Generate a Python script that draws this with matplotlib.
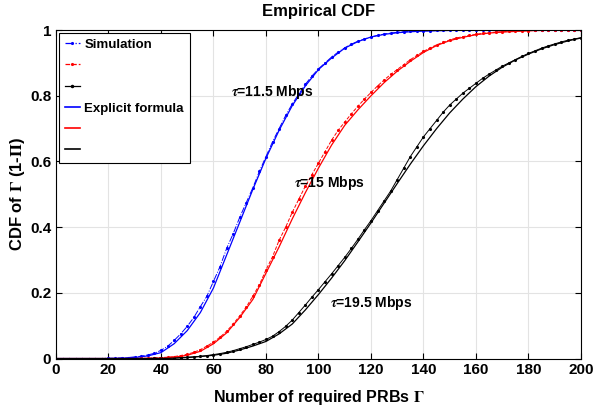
import numpy as np
import matplotlib
matplotlib.use('Agg')
import matplotlib.pyplot as plt
from matplotlib.lines import Line2D

plt.rcParams['font.family'] = ['Liberation Sans Narrow', 'Liberation Sans', 'DejaVu Sans']
plt.rcParams['font.weight'] = 'bold'
plt.rcParams['mathtext.fontset'] = 'stix'

# explicit formula, x every 5 PRBs
x_f = np.arange(0, 201, 5)
blue_f = [0, 0, 0, 0, 0, 0.001, 0.003, 0.008, 0.018, 0.045, 0.085, 0.14, 0.215, 0.315,
          0.415, 0.515, 0.61, 0.695, 0.77, 0.83, 0.88, 0.915, 0.945, 0.965, 0.979, 0.987,
          0.992, 0.995, 0.997, 0.998, 0.999, 1, 1, 1, 1, 1, 1, 1, 1, 1, 1]
red_f = [0, 0, 0, 0, 0, 0, 0, 0, 0.001, 0.004, 0.01, 0.022, 0.045, 0.078, 0.125, 0.18,
         0.26, 0.34, 0.425, 0.505, 0.58, 0.65, 0.71, 0.757, 0.8, 0.84, 0.875, 0.905,
         0.932, 0.953, 0.968, 0.978, 0.986, 0.991, 0.994, 0.996, 0.998, 0.999, 1, 1, 1]
black_f = [0, 0, 0, 0, 0, 0, 0, 0, 0, 0.001, 0.003, 0.006, 0.01, 0.016, 0.026, 0.038,
           0.052, 0.075, 0.105, 0.148, 0.195, 0.245, 0.298, 0.355, 0.413, 0.473, 0.533,
           0.592, 0.648, 0.7, 0.748, 0.79, 0.828, 0.86, 0.887, 0.909, 0.927, 0.943, 0.956,
           0.967, 0.976]

# simulation (empirical CDF), x every 2.5 PRBs
x_s = np.arange(0, 200.1, 2.5)
blue_s = [0, 0, 0, 0, 0, 0, 0, 0,                                   # 0 - 17.5
          0.001, 0.001, 0.002, 0.003, 0.005, 0.007, 0.011, 0.016,  # 20 - 37.5
          0.025, 0.037, 0.055, 0.075, 0.098, 0.125, 0.158, 0.19,   # 40 - 57.5
          0.235, 0.28, 0.335, 0.38, 0.43, 0.475, 0.52, 0.57,       # 60 - 77.5
          0.615, 0.66, 0.70, 0.74, 0.775, 0.805, 0.835, 0.86,      # 80 - 97.5
          0.882, 0.9, 0.918, 0.933, 0.946, 0.957, 0.966, 0.973,    # 100 - 117.5
          0.979, 0.984, 0.988, 0.991, 0.993, 0.995, 0.996, 0.997,  # 120 - 137.5
          0.998, 0.998, 0.999, 0.999, 0.999, 1, 1, 1,              # 140 - 157.5
          1, 1, 1, 1, 1, 1, 1, 1,                                  # 160 - 177.5
          1, 1, 1, 1, 1, 1, 1, 1,                                  # 180 - 197.5
          1]
red_s = [0, 0, 0, 0, 0, 0, 0, 0,                                    # 0 - 17.5
         0, 0, 0, 0, 0, 0.001, 0.001, 0.002,                        # 20 - 37.5
         0.003, 0.004, 0.006, 0.009, 0.013, 0.019, 0.027, 0.038,    # 40 - 57.5
         0.05, 0.065, 0.083, 0.105, 0.13, 0.157, 0.19, 0.225,       # 60 - 77.5
         0.27, 0.31, 0.36, 0.40, 0.445, 0.485, 0.525, 0.56,         # 80 - 97.5
         0.595, 0.63, 0.665, 0.695, 0.72, 0.745, 0.768, 0.79,       # 100 - 117.5
         0.81, 0.83, 0.848, 0.865, 0.88, 0.895, 0.91, 0.923,        # 120 - 137.5
         0.935, 0.946, 0.955, 0.963, 0.97, 0.976, 0.98, 0.984,      # 140 - 157.5
         0.987, 0.99, 0.992, 0.994, 0.995, 0.996, 0.997, 0.998,     # 160 - 177.5
         0.998, 0.999, 0.999, 0.999, 1, 1, 1, 1,                    # 180 - 197.5
         1]
black_s = [0, 0, 0, 0, 0, 0, 0, 0,                                  # 0 - 17.5
           0, 0, 0, 0, 0, 0, 0, 0.001,                              # 20 - 37.5
           0.001, 0.001, 0.002, 0.003, 0.004, 0.005, 0.007, 0.009,  # 40 - 57.5
           0.012, 0.015, 0.019, 0.024, 0.03, 0.036, 0.043, 0.05,    # 60 - 77.5
           0.058, 0.068, 0.082, 0.098, 0.117, 0.14, 0.163, 0.187,   # 80 - 97.5
           0.21, 0.234, 0.258, 0.283, 0.308, 0.335, 0.363, 0.392,   # 100 - 117.5
           0.42, 0.45, 0.48, 0.51, 0.545, 0.58, 0.615, 0.645,       # 120 - 137.5
           0.675, 0.70, 0.725, 0.75, 0.772, 0.79, 0.808, 0.823,     # 140 - 157.5
           0.838, 0.853, 0.866, 0.878, 0.89, 0.90, 0.91, 0.92,      # 160 - 177.5
           0.929, 0.937, 0.945, 0.952, 0.958, 0.964, 0.969, 0.973,  # 180 - 197.5
           0.977]

labels_tau = ['$\\tau$=11.5 Mbps', '$\\tau$=15 Mbps', '$\\tau$=19.5 Mbps']
label_pos = [(66.5, 0.81), (90.5, 0.535), (104.5, 0.17)]

fig = plt.figure(figsize=(6.06, 4.18), dpi=100)
ax = fig.add_axes([0.0924, 0.1423, 0.8663, 0.7857])

ax.plot(x_s, blue_s, color='b', ls='-.', lw=0.7, marker='.', ms=2.5)
ax.plot(x_s, red_s, color='r', ls='--', lw=0.7, marker='.', ms=2.5)
ax.plot(x_s, black_s, color='k', ls='-', lw=0.7, marker='.', ms=2.5)
ax.plot(x_f, blue_f, color='b', lw=0.9)
ax.plot(x_f, red_f, color='r', lw=0.9)
ax.plot(x_f, black_f, color='k', lw=0.9)

for t, (px, py) in zip(labels_tau, label_pos):
    ax.text(px, py, t, fontsize=10, fontweight='bold', va='center', ha='left')

handles = [Line2D([], [], color='b', ls='-.', marker='.', ms=2.5, lw=0.9),
           Line2D([], [], color='r', ls='--', marker='.', ms=2.5, lw=0.9),
           Line2D([], [], color='k', ls='-', marker='.', ms=3, lw=0.9),
           Line2D([], [], color='b', lw=1.2),
           Line2D([], [], color='r', lw=1.2),
           Line2D([], [], color='k', lw=1.2)]
leg = ax.legend(handles, ['Simulation', '', '', 'Explicit formula', '', ''],
                loc='upper left', fancybox=False, framealpha=1, edgecolor='k',
                fontsize=9.5, handlelength=1.2, handletextpad=0.3, labelspacing=0.68,
                borderaxespad=0.2, borderpad=0.45)
leg.get_frame().set_linewidth(0.8)

ax.set_xlim(0, 200)
ax.set_ylim(0, 1)
ax.set_xticks(np.arange(0, 201, 20))
ax.set_yticks([0, 0.2, 0.4, 0.6, 0.8, 1])
ax.set_yticklabels(['0', '0.2', '0.4', '0.6', '0.8', '1'])
ax.tick_params(direction='in', top=True, right=True, labelsize=11, length=4)
ax.grid(True, color='#e3e3e3', lw=0.8)
ax.set_axisbelow(True)
for s in ax.spines.values():
    s.set_linewidth(0.8)

ax.set_title('Empirical CDF', fontsize=12, fontweight='bold', pad=10)
ax.set_xlabel('Number of required PRBs $\\Gamma$', fontsize=11.5, fontweight='bold', labelpad=8)
ax.set_ylabel('CDF of $\\Gamma$ (1-$\\Pi$)', fontsize=12, fontweight='bold', labelpad=2)

fig.savefig('out.png', dpi=100)
